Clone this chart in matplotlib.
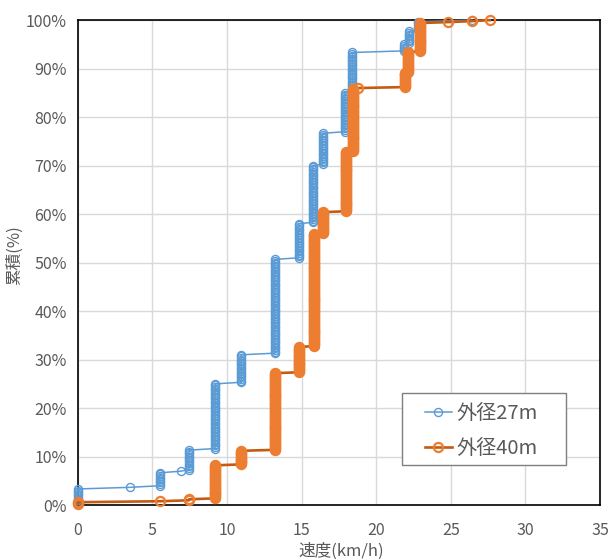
"""Cumulative speed distribution for two outer diameters."""

import matplotlib.pyplot as plt
import numpy as np
from matplotlib.patches import Rectangle

plt.rcParams["font.family"] = ["Noto Sans CJK JP", "DejaVu Sans"]

# distinct speeds (km/h) and number of observations at each speed
speed_27 = [0.0, 3.5, 5.5, 6.9, 7.45, 9.2, 10.95, 13.2, 14.8, 15.75, 16.4,
            17.9, 18.4, 21.85, 22.2, 22.8, 26.4]
count_27 = [10, 1, 9, 1, 13, 41, 18, 59, 22, 36, 20, 25, 25, 5, 8, 6, 1]

speed_40 = [0.0, 5.5, 7.45, 9.2, 10.95, 13.2, 14.8, 15.85, 16.4, 18.0, 18.45,
            18.75, 21.9, 22.15, 22.9, 24.8, 26.4, 27.6]
count_40 = [3, 1, 2, 35, 15, 80, 27, 117, 22, 62, 65, 1, 16, 21, 30, 1, 1, 1]

label_27 = "外径27m"
label_40 = "外径40m"

x_ticks = [0, 5, 10, 15, 20, 25, 30, 35]
y_ticks = [0, 10, 20, 30, 40, 50, 60, 70, 80, 90, 100]

TEXT_GREY = "#595959"


def cumulative(speeds, counts):
    """Expand per-speed counts into individual points with cumulative %."""
    x = np.repeat(speeds, counts)
    y = np.arange(1, len(x) + 1) / len(x) * 100.0
    return x, y


fig = plt.figure(figsize=(6.08, 5.6), dpi=100)
ax = fig.add_axes([0.128, 0.098, 0.859, 0.866])

x27, y27 = cumulative(speed_27, count_27)
x40, y40 = cumulative(speed_40, count_40)

ax.plot(x27, y27, color="#5B9BD5", linewidth=1.1,
        marker="o", markersize=5.8, markerfacecolor="none",
        markeredgecolor="#5B9BD5", markeredgewidth=1.0,
        label=label_27, zorder=3, clip_on=False)
ax.plot(x40, y40, color="#C55A11", linewidth=1.9,
        marker="o", markersize=6.6, markerfacecolor="none",
        markeredgecolor="#ED7D31", markeredgewidth=1.6,
        label=label_40, zorder=4, clip_on=False)

ax.set_xlim(0, 35)
ax.set_ylim(0, 100)
ax.set_xticks(x_ticks)
ax.set_yticks(y_ticks)
ax.set_yticklabels([f"{v}%" for v in y_ticks])
ax.tick_params(length=0, labelsize=11.5, labelcolor=TEXT_GREY)
ax.tick_params(axis="x", pad=12)
ax.tick_params(axis="y", pad=8)

ax.grid(True, color="#D9D9D9", linewidth=1.0)
ax.set_axisbelow(True)
for spine in ax.spines.values():
    spine.set_color("black")
    spine.set_linewidth(1.2)

ax.set_xlabel("速度(km/h)", fontsize=12, color=TEXT_GREY)
ax.set_ylabel("累積(%)", fontsize=12, color=TEXT_GREY)
ax.xaxis.set_label_coords(0.504, -0.078)
ax.yaxis.set_label_coords(-0.105, 0.515)

# legend box drawn as a patch, entries laid out on top of it
ax.add_patch(Rectangle((0.661, 0.1696), 0.270, 0.128,
                       transform=fig.transFigure, facecolor="white",
                       edgecolor="#7F7F7F", linewidth=1.0, zorder=5,
                       clip_on=False))
leg = ax.legend(loc="upper left", bbox_to_anchor=(0.699, 0.280),
                bbox_transform=fig.transFigure, fontsize=14.5,
                frameon=False, handlelength=1.33, borderpad=0,
                borderaxespad=0, labelspacing=0.7, handletextpad=0.25)
leg.set_zorder(6)
for text in leg.get_texts():
    text.set_color(TEXT_GREY)

fig.savefig("out.png", dpi=100)
